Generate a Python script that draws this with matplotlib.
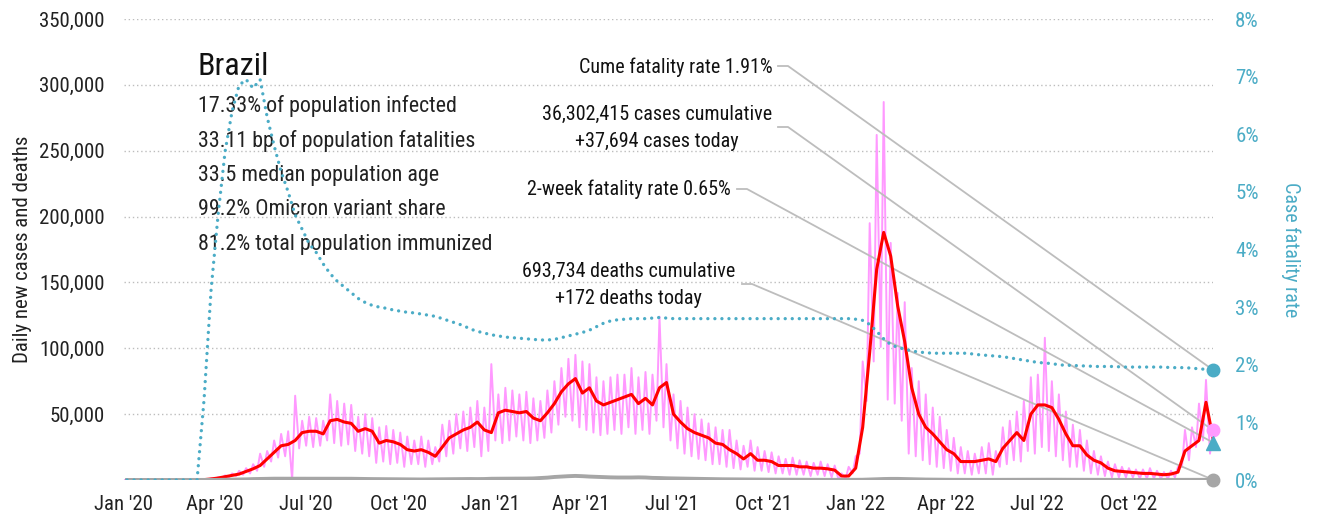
import numpy as np
import pandas as pd
import matplotlib
matplotlib.use("Agg")
import matplotlib.pyplot as plt
from matplotlib import font_manager

# pick a narrow face when one is installed
installed = {f.name for f in font_manager.fontManager.ttflist}
FONT = "Liberation Sans"
for fam in ["Liberation Sans Narrow", "Roboto Condensed", "Liberation Sans"]:
    if fam in installed:
        FONT = fam
        break
plt.rcParams["font.family"] = [FONT, "DejaVu Sans"]

# ---- data (weekly, starting 2020-01-04; cases & deaths in thousands) ----
country = "Brazil"
stats = ["17.33% of population infected",
         "33.11 bp of population fatalities",
         "33.5 median population age",
         "99.2% Omicron variant share",
         "81.2% total population immunized"]

cases_cum = 36302415
cases_today = 37694
deaths_cum = 693734
deaths_today = 172
cfr_cume = 1.91
cfr_2wk = 0.65

cases_avg = [0, 0, 0, 0, 0, 0, 0, 0, 0, 0,
             0.05, 0.3, 0.8, 1.5, 2.5, 3.5, 4.5, 6.5, 8.5, 11,
             16, 21, 26, 27, 30, 36, 37, 37, 35, 45,
             46, 44, 43, 37, 39, 37, 28, 30, 29, 27,
             23, 22, 23, 21, 18, 25, 32, 35, 38, 40,
             44, 38, 36, 51, 53, 52, 51, 52, 47, 45,
             51, 58, 67, 73, 77, 66, 70, 60, 57, 59,
             61, 63, 65, 58, 62, 57, 70, 74, 50, 44,
             39, 36, 34, 32, 28, 27, 23, 20, 16, 20,
             15, 15, 14, 11, 11, 11, 10, 10, 9, 9,
             8.5, 7.5, 3, 3, 9, 40, 97, 160, 188, 170,
             132, 105, 70, 50, 40, 35, 29, 23, 20, 14,
             14, 14, 15, 16, 14, 24, 30, 36, 30, 50,
             57, 57, 55, 46, 35, 26, 26, 19, 15, 13,
             9, 7, 6.5, 6, 5.5, 5, 5, 4.5, 4, 4.5,
             6, 22, 26, 30, 59, 32]

# midweek highs and weekend lows of the daily counts
cases_hi = [0, 0, 0, 0, 0, 0, 0, 0, 0, 0,
            0.1, 0.5, 1.2, 2, 3.5, 5, 7, 9, 12, 20,
            22, 30, 35, 37, 64, 45, 48, 47, 45, 65,
            60, 58, 57, 48, 50, 47, 40, 41, 38, 36,
            33, 30, 33, 30, 25, 42, 45, 50, 52, 55,
            60, 55, 88, 65, 70, 68, 65, 67, 62, 60,
            68, 75, 85, 92, 95, 90, 88, 78, 75, 78,
            80, 80, 85, 78, 82, 80, 124, 88, 65, 60,
            55, 50, 46, 43, 40, 38, 38, 30, 26, 30,
            25, 22, 21, 18, 16, 17, 15, 14, 13, 14,
            12, 11, 5, 10, 18, 90, 195, 262, 287, 180,
            142, 135, 85, 75, 65, 55, 48, 38, 32, 25,
            22, 20, 25, 28, 22, 40, 45, 52, 60, 78,
            80, 108, 75, 65, 52, 42, 38, 30, 22, 18,
            14, 12, 10, 9, 8, 8, 9, 7, 6, 7,
            10, 38, 40, 58, 76, 37.694]

cases_lo = [0, 0, 0, 0, 0, 0, 0, 0, 0, 0,
            0, 0.2, 0.5, 1, 1.5, 2, 3, 4, 5, 7,
            10, 14, 17, 18, 0, 24, 26, 25, 26, 30,
            28, 26, 27, 22, 20, 18, 13, 14, 12, 13,
            10, 12, 12, 10, 12, 14, 18, 20, 24, 22,
            25, 18, 22, 30, 28, 30, 33, 30, 28, 30,
            32, 36, 42, 48, 45, 40, 38, 36, 34, 35,
            38, 35, 40, 35, 38, 35, 45, 40, 30, 24,
            20, 18, 16, 15, 12, 12, 10, 9, 8, 10,
            7, 7, 6, 5, 5, 4, 4, 4, 3, 4,
            3, 2, 0, 1, 5, 20, 60, 90, 101, 61,
            58, 45, 20, 18, 15, 12, 10, 9, 7, 5,
            5, 4, 5, 5, 4, 10, 12, 15, 14, 22,
            20, 25, 22, 18, 15, 10, 10, 7, 5, 4,
            3, 2, 2, 2, 2, 1, 1, 1, 1, 1,
            2, 10, 15, 25, 30, 20]

deaths = [0, 0, 0, 0, 0, 0, 0, 0, 0, 0,
          0, 0.005, 0.03, 0.08, 0.15, 0.3, 0.4, 0.5, 0.7, 0.8,
          0.9, 1.0, 1.0, 1.0, 1.0, 1.05, 1.05, 1.05, 1.05, 1.05,
          1.0, 1.0, 0.95, 0.85, 0.8, 0.7, 0.65, 0.6, 0.55, 0.5,
          0.4, 0.35, 0.4, 0.45, 0.5, 0.55, 0.6, 0.65, 0.7, 0.75,
          0.7, 0.75, 0.95, 1.0, 1.05, 1.05, 1.05, 1.1, 1.2, 1.5,
          1.8, 2.3, 2.6, 2.9, 3.1, 2.9, 2.6, 2.4, 2.2, 2.0,
          1.9, 1.9, 1.9, 2.0, 1.9, 1.6, 1.5, 1.3, 1.2, 1.05,
          0.95, 0.9, 0.8, 0.75, 0.65, 0.55, 0.5, 0.45, 0.4, 0.38,
          0.35, 0.3, 0.28, 0.25, 0.23, 0.22, 0.2, 0.15, 0.13, 0.12,
          0.11, 0.1, 0.1, 0.12, 0.15, 0.2, 0.35, 0.55, 0.75, 0.85,
          0.85, 0.75, 0.6, 0.45, 0.35, 0.28, 0.22, 0.18, 0.15, 0.12,
          0.1, 0.1, 0.1, 0.12, 0.12, 0.12, 0.14, 0.17, 0.2, 0.23,
          0.25, 0.24, 0.22, 0.2, 0.17, 0.14, 0.12, 0.09, 0.08, 0.08,
          0.07, 0.07, 0.07, 0.06, 0.06, 0.06, 0.05, 0.05, 0.05, 0.05,
          0.06, 0.08, 0.1, 0.12, 0.14, 0.172]

# cumulative case fatality rate, %
cfr = [0, 0, 0, 0, 0, 0, 0, 0, 0, 0,
       0, 1.4, 3.3, 4.6, 5.7, 6.4, 6.85, 6.95, 6.8, 6.95,
       6.3, 5.8, 5.35, 5.0, 4.6, 4.35, 4.1, 3.95, 3.75, 3.58,
       3.45, 3.35, 3.25, 3.15, 3.08, 3.03, 3.0, 2.98, 2.95, 2.93,
       2.91, 2.9, 2.88, 2.86, 2.84, 2.8, 2.76, 2.72, 2.68, 2.62,
       2.58, 2.55, 2.52, 2.5, 2.48, 2.47, 2.46, 2.45, 2.44, 2.43,
       2.43, 2.44, 2.47, 2.5, 2.53, 2.56, 2.6, 2.66, 2.72, 2.76,
       2.78, 2.79, 2.8, 2.8, 2.8, 2.81, 2.82, 2.81, 2.8, 2.8,
       2.8, 2.8, 2.8, 2.8, 2.8, 2.8, 2.8, 2.8, 2.8, 2.8,
       2.8, 2.8, 2.8, 2.8, 2.8, 2.8, 2.8, 2.8, 2.8, 2.8,
       2.8, 2.8, 2.8, 2.8, 2.79, 2.77, 2.7, 2.58, 2.45, 2.35,
       2.3, 2.27, 2.24, 2.22, 2.21, 2.2, 2.2, 2.2, 2.2, 2.2,
       2.2, 2.18, 2.17, 2.16, 2.15, 2.14, 2.12, 2.1, 2.08, 2.06,
       2.04, 2.03, 2.02, 2.0, 1.99, 1.99, 1.98, 1.98, 1.97, 1.97,
       1.97, 1.97, 1.96, 1.96, 1.96, 1.96, 1.96, 1.96, 1.96, 1.95,
       1.95, 1.95, 1.94, 1.93, 1.92, 1.91]

weeks = pd.date_range("2020-01-04", periods=len(cases_avg), freq="7D")
last_day = weeks[-1]

# daily zigzag: weekend low three days before each midweek high
zig_x = np.ravel(np.column_stack([(weeks - pd.Timedelta(days=3)).values, weeks.values]))
zig_y = np.ravel(np.column_stack([cases_lo, cases_hi])) * 1000

PINK = "#ff99ff"
RED = "#ff0000"
BLUE = "#4bacc6"
GREY = "#a6a6a6"
YMAX = 350000
RMAX = 8

fig = plt.figure(figsize=(13.21, 5.2), dpi=100)
ax = fig.add_axes([124 / 1321, 40 / 520, 1089 / 1321, 461 / 520])

ax.plot(zig_x, zig_y, color=PINK, lw=1.4, zorder=2)
ax.plot(weeks, np.array(cases_avg) * 1000, color=RED, lw=2.2, zorder=3)
ax.plot(weeks, np.array(deaths) * 1000, color=GREY, lw=2.8, zorder=3)

ax.set_xlim(pd.Timestamp("2020-01-01"), last_day)
ax.set_ylim(0, YMAX)
ax.set_yticks(np.arange(50000, YMAX + 1, 50000))
ax.set_yticklabels([f"{v:,}" for v in range(50000, YMAX + 1, 50000)])
qtr = pd.date_range("2020-01-01", "2022-10-01", freq="QS")
ax.set_xticks(qtr)
ax.set_xticklabels([d.strftime("%b '%y") for d in qtr])
ax.tick_params(axis="both", length=0, labelsize=15, colors="#222222")
ax.tick_params(axis="y", pad=14)
ax.tick_params(axis="x", pad=11)
ax.set_ylabel("Daily new cases and deaths", fontsize=15, color="#222222", labelpad=5)
ax.grid(axis="y", color="#bdbdbd", linestyle=(0, (1, 2)), lw=1)
ax.set_axisbelow(True)
for s in ax.spines.values():
    s.set_visible(False)

ax2 = ax.twinx()
ax2.plot(weeks, cfr, color=BLUE, lw=2.4, linestyle=(0, (0.01, 2.1)),
         dash_capstyle="round", zorder=4)
ax2.set_ylim(0, RMAX)
ax2.set_yticks(range(0, RMAX + 1))
ax2.set_yticklabels([f"{v}%" for v in range(0, RMAX + 1)])
ax2.tick_params(axis="y", length=0, labelsize=15, colors=BLUE, pad=16)
ax2.set_ylabel("Case fatality rate", fontsize=14.5, color=BLUE, rotation=270, labelpad=30)
for s in ax2.spines.values():
    s.set_visible(False)

# end-of-series markers
ax.plot([last_day], [cases_today], "o", color=PINK, ms=9, clip_on=False, zorder=6)
ax.plot([last_day], [deaths_today], "o", color=GREY, ms=9, clip_on=False, zorder=6)
ax2.plot([last_day], [cfr_cume], "o", color=BLUE, ms=9, clip_on=False, zorder=6)
ax2.plot([last_day], [cfr_2wk], "^", color=BLUE, ms=10, clip_on=False, zorder=7)


def frac(px, py):
    return (px - 124) / 1089, (480 - py) / 461


# title block
tx, ty = frac(198, 66)
ax.text(tx, ty, country, transform=ax.transAxes, fontsize=23, fontweight="normal",
        ha="left", va="center", color="#111111")
for k, line in enumerate(stats):
    lx, ly = frac(198, 106 + 34.6 * k)
    ax.text(lx, ly, line, transform=ax.transAxes, fontsize=15.8, ha="left",
            va="center", color="#222222")

# labels with leader lines to the end markers
notes = [
    (f"Cume fatality rate {cfr_cume:.2f}%", (773, 67), (778, 66), cfr_cume / RMAX),
    (f"{cases_cum:,} cases cumulative\n+{cases_today:,} cases today", (772, 128), (778, 127),
     cases_today / YMAX),
    (f"2-week fatality rate {cfr_2wk:.2f}%", (731, 189), (737, 189), cfr_2wk / RMAX),
    (f"{deaths_cum:,} deaths cumulative\n+{deaths_today} deaths today", (735, 285), (742, 284),
     deaths_today / YMAX),
]
for text, tpos, lpos, yend in notes:
    x0, y0 = frac(*tpos)
    ax.text(x0, y0, text, transform=ax.transAxes, fontsize=14.5, ha="right", va="center",
            multialignment="center", linespacing=1.55, color="#111111")
    sx, sy = frac(*lpos)
    ex, _ = frac(lpos[0] + 10, lpos[1])
    ax.plot([sx, ex, 1.0], [sy, sy, yend], transform=ax.transAxes, color="#bdbdbd",
            lw=1.3, clip_on=False, zorder=2.5)

fig.savefig("out.png", dpi=100)
